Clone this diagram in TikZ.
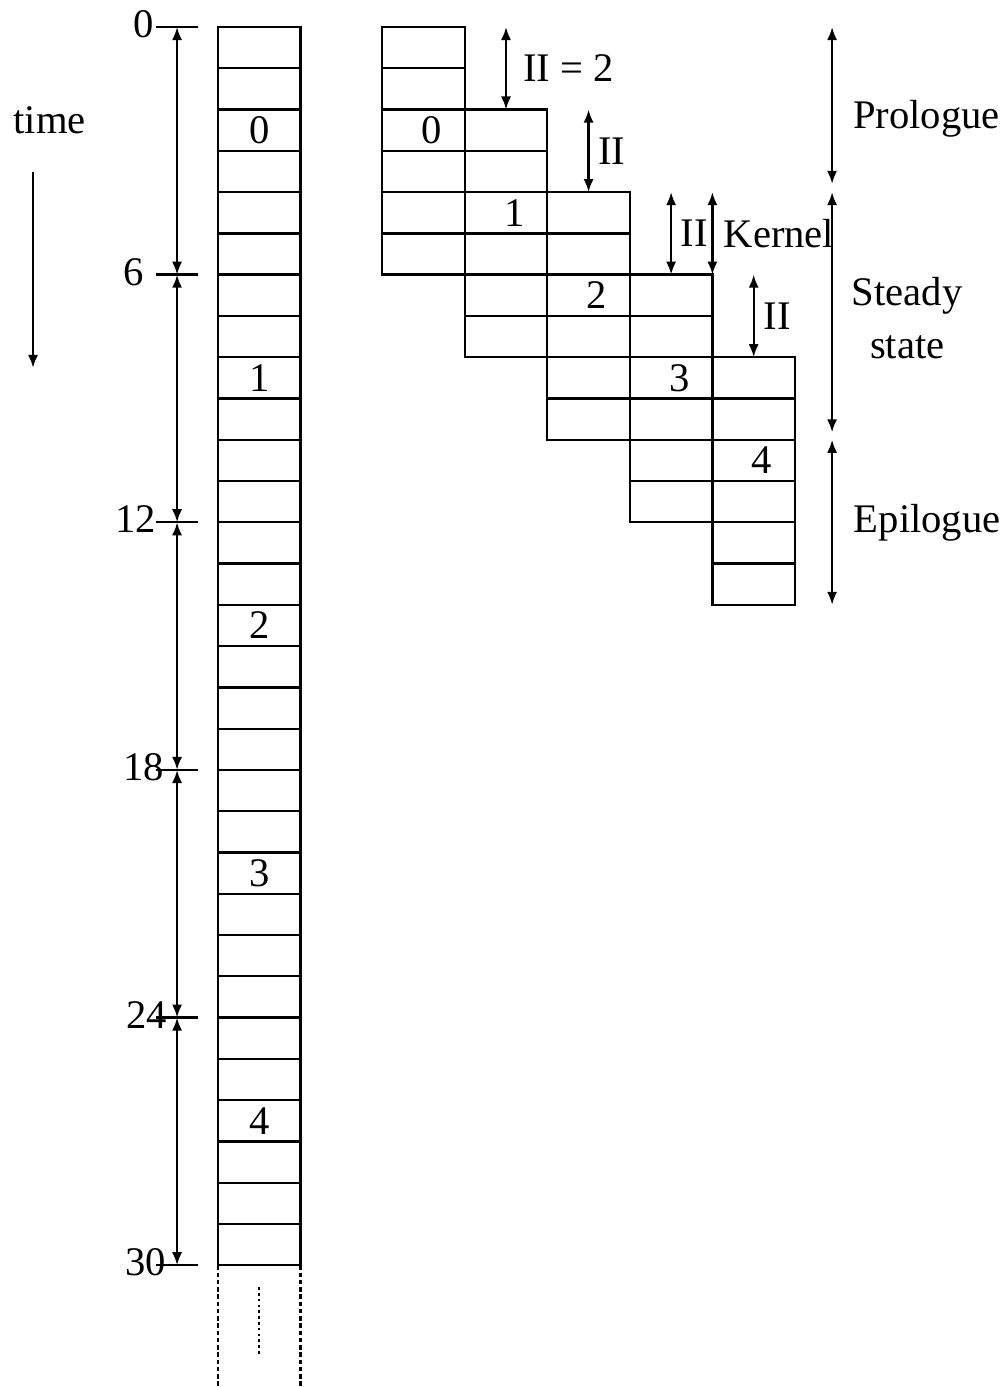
\documentclass[tikz,border=0pt]{standalone}
\usepackage{fontspec}
\setmainfont{Liberation Serif}
\usetikzlibrary{arrows.meta}

\begin{document}
\begin{tikzpicture}[x=0.5cm, y=-0.5cm, line width=0.8pt,
    every node/.style={font=\fontsize{14}{18.5}\selectfont, inner sep=0pt},
    dim/.style={{Latex[length=4.5pt,width=3.5pt]}-{Latex[length=4.5pt,width=3.5pt]}}]
        \useasboundingbox (0,-0.654) rectangle (24.42,32.95);

        % Draw the time column, one row per cycle
        \draw (5.28,0) rectangle (7.28,30);
        \foreach \t in {1,...,29} \draw (5.28,\t) -- (7.28,\t);
        \draw[dash pattern=on 1.6pt off 0.9pt] (5.28,30) -- (5.28,32.95);
        \draw[dash pattern=on 1.6pt off 0.9pt] (7.28,30) -- (7.28,32.95);
        \draw[dash pattern=on 0.9pt off 1.1pt] (6.28,30.53) -- (6.28,32.18);
        \foreach \i in {0,...,4} \node (col\i) at (6.28,2.5+6*\i) {\i};

        % Draw the axis with a tick every 6 cycles
        \foreach \t/\xl in {0/3.76, 6/3.51, 12/3.80, 18/4.0, 24/4.07, 30/4.05} {
            \draw (3.78,\t) -- (4.8,\t);
            \node[anchor=east] (tick\t) at (\xl,\t-0.07) {\t};
        }
        \foreach \t in {0,6,...,24} \draw[dim] (4.29,\t) -- (4.29,\t+6);

        \node (time) at (1.2,2.25) {time};
        \draw[-{Latex[length=4.5pt,width=3.5pt]}] (0.8,3.51) -- (0.8,8.26);

        % Draw the overlapped iterations
        \foreach \i in {0,...,4} {
            \draw (9.26+2*\i,2*\i) rectangle (11.26+2*\i,2*\i+6);
            \foreach \r in {1,...,5} \draw (9.26+2*\i,2*\i+\r) -- (11.26+2*\i,2*\i+\r);
            \node (it\i) at (10.46+2*\i,2*\i+2.5) {\i};
        }

        % Initiation interval between iterations
        \draw[dim] (12.26,0) -- node[right, xshift=5.5pt] (ii1) {II = 2} (12.26,2);
        \foreach \i in {2,3,4}
            \draw[dim] (10.26+2*\i,2*\i-2) -- node[right, xshift=3pt] (ii\i) {II} (10.26+2*\i,2*\i);
        \draw[dim] (17.26,4) -- node[right, xshift=3.5pt] (kernel) {Kernel} (17.26,6);

        % Draw the phases
        \draw[dim] (20.16,0) -- (20.16,3.8);
        \draw[dim] (20.16,4) -- (20.16,9.82);
        \draw[dim] (20.16,10) -- (20.16,14);
        \node[anchor=west] (prologue) at (20.64,2.22) {Prologue};
        \node[align=center] (steady) at (21.98,7.05) {Steady\\state};
        \node[anchor=west] (epilogue) at (20.66,12.0) {Epilogue};
\end{tikzpicture}
\end{document}
